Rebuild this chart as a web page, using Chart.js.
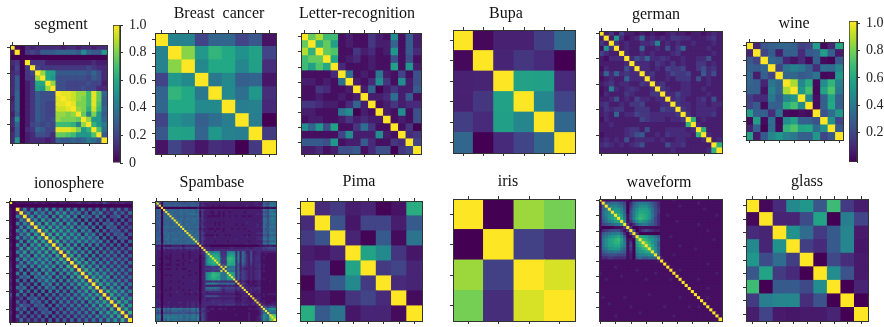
<!DOCTYPE html>
<html>
<head>
<meta charset="utf-8">
<title>Correlation matrices</title>
<script src="https://cdn.jsdelivr.net/npm/chart.js@4"></script>
<style>
  html, body { margin: 0; background: #fff; }
  #page { position: relative; width: 884px; height: 327px; overflow: hidden; filter: blur(.35px); }
  #page canvas { position: absolute; }
  .titre { position: absolute; transform: translate(-50%, -50%); font: 16px "Liberation Serif", serif; color: #111; white-space: nowrap; }
</style>
</head>
<body>
<div id="page"></div>
<script>
// small matrices, read cell by cell
const breastValues = [
  [1, .44, .44, .2, .32, .33, .2, .27, .05],
  [.44, 1, .82, .53, .65, .6, .5, .57, .2],
  [.44, .82, 1, .47, .6, .6, .46, .56, .13],
  [.2, .53, .47, 1, .4, .47, .3, .32, .06],
  [.32, .65, .6, .4, 1, .47, .36, .52, .13],
  [.33, .6, .6, .47, .47, 1, .42, .43, .11],
  [.2, .5, .46, .3, .36, .42, 1, .42, 0],
  [.27, .57, .56, .32, .52, .43, .42, 1, .17],
  [.05, .2, .13, .06, .13, .11, 0, .17, 1]
];
const bupaValues = [
  [1, .02, .09, .09, .18, .33],
  [.02, 1, .1, .16, .12, 0],
  [.09, .1, 1, .57, .56, .12],
  [.09, .16, .57, 1, .46, .2],
  [.18, .12, .56, .46, 1, .33],
  [.33, 0, .12, .2, .33, 1]
];
const wineValues = [
  [1, .1, .27, .3, .33, .33, .3, .18, .2, .55, .03, .1, .58],
  [.1, 1, .2, .28, .08, .3, .3, .12, .28, .3, .55, .3, .07],
  [.27, .2, 1, .33, .3, .1, .05, .12, .03, .3, .03, .01, .28],
  [.3, .28, .33, 1, .2, .38, .43, .4, .3, .13, .36, .35, .45],
  [.33, .08, .3, .2, 1, .33, .33, .28, .3, .38, .02, .03, .52],
  [.33, .3, .1, .38, .33, 1, .87, .45, .62, .03, .48, .65, .43],
  [.3, .3, .05, .43, .33, .87, 1, .52, .7, .02, .57, .72, .4],
  [.18, .12, .12, .4, .28, .45, .52, 1, .47, .04, .3, .58, .3],
  [.2, .28, .03, .3, .3, .62, .7, .47, 1, .03, .3, .6, .3],
  [.55, .3, .3, .13, .38, .03, .02, .04, .03, 1, .25, .35, .52],
  [.03, .55, .03, .36, .02, .48, .57, .3, .3, .25, 1, .5, .2],
  [.1, .3, .01, .35, .03, .65, .72, .58, .6, .35, .5, 1, .28],
  [.58, .07, .28, .45, .52, .43, .4, .3, .3, .52, .2, .28, 1]
];
const pimaValues = [
  [1, .12, .17, .08, .1, .01, .05, .62],
  [.12, 1, .25, .06, .2, .2, .08, .28],
  [.17, .25, 1, .1, .01, .28, .03, .38],
  [.08, .06, .1, 1, .58, .47, .15, .06],
  [.1, .2, .01, .58, 1, .17, .2, .1],
  [.01, .2, .28, .47, .17, 1, .12, .1],
  [.05, .08, .03, .15, .2, .12, 1, .03],
  [.62, .28, .38, .06, .1, .1, .03, 1]
];
const irisValues = [
  [1, 0, .85, .79],
  [0, 1, .19, .13],
  [.85, .19, 1, .94],
  [.79, .13, .94, 1]
];
const glassValues = [
  [1, .02, .12, .47, .52, .27, .68, .17, .08],
  [.02, 1, .1, .1, .23, .58, 0, .42, .2],
  [.12, .1, 1, .5, .35, .17, .28, .45, .07],
  [.47, .1, .5, 1, .18, .12, .28, .46, .06],
  [.52, .23, .35, .18, 1, 0, .22, .13, .07],
  [.27, .58, .17, .12, 0, 1, .48, .25, .07],
  [.68, 0, .28, .28, .22, .48, 1, 0, .1],
  [.17, .42, .45, .46, .13, .25, 0, 1, 0],
  [.08, .2, .07, .06, .07, .07, .1, 0, 1]
];

// big matrices: upper triangle only, one letter per cell, a=0 ... z=1 (steps of .04)
const segmentRows = [
  'zbadcdddddcddcddcdd', 'zaefehhhiiiihmihhn', 'aaaaaaaaaaaaaaaaa', 'zeeecccccccccdcc',
  'zfeeeeeeeeefedd', 'zvpohhhhhhgigd', 'zpnggggggfhgd', 'zvggffffgffc', 'zggfffgffdd',
  'zyyxvvryti', 'zyxvuryth', 'zyuurysh', 'zvuqxri', 'ztlunh', 'zvnni', 'zqnk', 'zsj', 'zh', 'z'
];
const letterRows = [
  'ztwrrbcbbecbmbhc', 'zqtobcbbeccibhc', 'ztsbbecdbcnbhd', 'zpbcdbcbbgbgb', 'zdbbbcbbobnc',
  'zjbcbkcbfbg', 'zcbdmebmcg', 'zciacecch', 'zccdjchb', 'zbcecdd', 'zcbmbg', 'zbcbg',
  'zbea', 'zde', 'zf', 'z'
];
const germanRows = [
  'zcebfccbcbcbbcdccbccbcdc', 'zcndbcdicdcdceeddcccdec', 'zecdccddelcdcdccdcccdc',
  'zcdcciccdcgceiccccdcc', 'zdccdcdcccdeccccccdc', 'zdgeiddedccdccddgcc', 'zdddcedcecdcceecdc',
  'zddcdcfeefccegdec', 'zdeccdfeefcchdgc', 'zdccdceeecgcdcc', 'zdecccddcccdcc', 'zedccddccdccc',
  'zddfddcccdcc', 'zdedccdecgc', 'zeddcddcdd', 'zedcddddc', 'zecdddec', 'zqcdccc', 'zdcccc',
  'zqccc', 'zdcc', 'zcd', 'zq', 'z'
];
const ionosphereRows = [
  'zabbbbbcbcbbcbccbccdccdcdcgdcccdcc', 'aaaaaaaaaaaaaaaaaaaaaaaaaaaaaaaaa',
  'zdlclcldmc mdlcldlclc jcjcjcidjc ic',
  'zfldmfldmd nfndlflcjb kflcgcjdic j',
  'zfmdnflcmd ofndmblfjc kcjbgfjbhc',
  'zfndofmcod mfmckbkbib jbibgbibg',
  'zfodpfnfnc nfmclblbjb ifjcibhc',
  'zgoepfnfnf ndmflckbkb jfibhcg',
  'zgpepfofnf ncmflbkbjc ifhcic',
  'zgpepfofnf ncmflckbjc ifibh',
  'zgpepfnfnf nfmflbkbjb ifib',
  'zgqenfmfnf mflflcjbjb ibi',
  'zfpdodncmc mclcjcjbjb ib',
  'zgpfodmcmc lclcjcjcic i',
  'zeqfnemdmc lckdkdjcic',
  'zgpdodmclc kdkdjcjci',
  'zeqfncmdlc kdkdjdjc',
  'zgpfoemdld ldkdjcj',
  'zdpenemdld kdkdjc',
  'zgqfodmeld ldkdj',
  'zfpgnfmeldkdjd', 'zeogofncldkdj', 'zfqenfmdldkd',
  'zgpfofneldk', 'zeodnemcld', 'zfqgofnel', 'zepfmfld', 'zgpdofm', 'zfqgof', 'zepen', 'zgpf',
  'zeq', 'zf', 'z'
];
const spambaseRows = [
  'zhgaihgihi hgigghihig icedddcccc cccccccdcc cccdccccdd cikgkkj',
  'zgahhhhgh hgggghghhg hcdccccccc cccccccccc cccccccdcc cigfiji',
  'zaihiihi hiihihhiih icedcccbcc bcbccccccc cccdccccdc djigklj',
  'zaaaaaa aaaaaaaaaa baaaaaaaaa aaaaaaaaaa aaaaaaaaaa abaabaa',
  'zihiii ihjiijiiih icfdcccccc cccccccccc cccccccccc djigklj',
  'ziijh iijiiiiijh ibecccbbcc bcbccbcccc ccbccccccc chgfjjh',
  'ziii iijihjjjji jbfccccbcc bcbccccccc ccccccccdc djhgkll',
  'zhi hhihhihihh ibeccbbbbb bcbccbccbc cbbcbbcccc chgfiji',
  'zi ihjihjiiji jcfccccccc cccccccccc cccccccccc ckigklj',
  'z jijhiiiiji icedcccccc cccccccccc cccccccccc djigjkj',
  'zijhiiiiji icecccccbc bcbccccccc cccdcccccc cjigjkj',
  'zihijhiih icecccccbc bcccccccbc cbccccccdc cjhgiji',
  'zjiijiij jcfdcccccc cccccccccc ccccccccdc djigkkj',
  'zhiihih ibdccbbbcb bcbcccbccb ccbccccccc cighiii',
  'zjijii icecccccbc ccbccccccc ccccbccccc cihgjii',
  'zijii jcfdcccccc cccccccccc ccccccccdd djigkkj',
  'ziij icecbbbbcb cccbcbcccc ccbcbccccc chgfiih',
  'zji jcfdccccdc cccccccccc cccdccccdd djigjkj',
  'zj kcfdcccccc ccccccccdc ccccccccdd dkjhkkj',
  'z icecccccbc ccccbccccc ccccbccccc chgfiii',
  'zcfdcccccc cccccccccc cccdccccdd dkjhkml',
  'zbbbbaaaa aaaaaaaaaa aaaaaaaaab bbcbcbb',
  'zeddcccc ccccccdccc cccdcccddd dfefggg',
  'zeddcdd dddddddddd dddddddddd dedeeee',
  'zllkll kdedlllldk cjgccgccdd ccccccc',
  'zmooo mdedmnnndl cjgdcgccdd bbcbbbb',
  'zppp neeeoppodl cjhdcgcddd bcbbbbb',
  'zqq pfefqrqpel cjgdcgcded bcbbbbb',
  'zq pefeqqqpdl ckgdcgcddd bbbbbbb',
  'z oeeepqppdk cjgdcfcddd bbbbbbb',
  'zeieppopeh cifdcecdde bcbbbbb',
  'zgxjjjjdi cfedcdcdde bcbbbbb',
  'zgkkkkdi cecccdccdd bbbbbbb',
  'zjjjjdi cfedcdcdde bcbbbbb',
  'zopndi dfedcdcdde bbbbbbb',
  'zpndi cfedcdcdde bbbbbbb',
  'zndi dfedcdcdde bbbbbbb',
  'zdi cfedcdcdde bcbbbbb',
  'zc cdcbbcbbcc bbbbcbb',
  'z cfecbcbccd bbbbbbb',
  'zdcccbcbcc bbbbbbb',
  'zedcdcdde bbbbbbb',
  'zdcdcdcd bbbbbbb',
  'zcdcccd bbbbbbb',
  'zcbccc bcbcccc',
  'zcbcc bcbbbbb',
  'zcdd bbbbbbb',
  'zdc bcbbbbb',
  'zd ccbbbcc',
  'z cdcccdc',
  'zffeggf', 'zkjmnm', 'zjkkj', 'zjji', 'zts', 'zt', 'z'
];
const waveformRows = [
  'zbbbbbbbbb abbbbbbbbb bbbbcbbbbb bbbbbbbbbb',
  'zhijjihfa dhjkkkjhfd bbbbbbbbbb bbcbbbbbbb',
  'zkllkjga eikmmmkifd bbbbbbcbbb bbbbbbbbbb',
  'zmnnlha fjmooomjge bbbbbbbbbb bbbbcbbbbb',
  'zoomia gknpponjge bbbbbbbbbb bbbbbbbbbb',
  'zqojb gkoqqpnkgd bbcbbbbbbb bbbbbbbbcb',
  'zpkb glprqpnjfd bbbbbbbbbb bbbbbbbbbb',
  'zmb eimonmkifd bbbbbcbbbb bbbbbbbbbb',
  'ze bdhjkkihfd bbbbbbbbbb bbcbbbbbbb',
  'z eaabbbbbbb bbbbbbbbbb bbbbbbbbbb',
  'zgacefedcc bbbbbbbbbb bbbbbcbbbb',
  'zeaaaaaaa bbbbbbbbbb bbbbbbbbbb',
  'zqpomljh bbbcbbbbbb bbbbbbbbbb',
  'zrqonlj bbbbbbbbbb bbbbbbbcbb',
  'zsqnlh bbbbbbbbbb bbbbbbbbbb',
  'zrplh bbbbbbcbbb bbbbbbbbbb',
  'zpmi bbbbbbbbbb bcbbbbbbbb',
  'zmi bbbbbbbbbb bbbbbbbbbb',
  'zi bbbbcbbbbb bbbbbbbbbb',
  'z cbbbbbbbbb bbbbbbbbbb',
  'zbbbbbbbbb bbbbbbbbbb',
  'zbbbbbbbb bbbbbcbbbb', 'zbbbbbbb bbbbbbbbbb', 'zbbcbbb bbbbbbbbbb', 'zbbbbb bbbbbbbbcb',
  'zbbbb bbbbbbbbbb', 'zbbb bbcbbbbbbb', 'zbb bbbbbbbbbb', 'zb bbbbbbbbbb', 'z bbbbbcbbbb',
  'zbbbbbbbbb', 'zbbbbbbbb', 'zbbcbbbb', 'zbbbbbb', 'zbbbbb', 'zbbbb', 'zbbb', 'zbb', 'zb', 'z'
];

const colorbarTicks = [0, .2, .4, .6, .8, 1];
const colorbarTicksWine = [.2, .4, .6, .8, 1];

const viridis = [
  [68, 1, 84], [72, 36, 117], [65, 68, 135], [53, 95, 141], [42, 120, 142], [33, 145, 140],
  [34, 168, 132], [68, 191, 112], [122, 209, 81], [189, 223, 38], [253, 231, 37]
];

function couleur(v) {
  const p = Math.min(Math.max(v, 0), 1) * (viridis.length - 1);
  const i = Math.min(Math.floor(p), viridis.length - 2);
  const t = p - i;
  const c = viridis[i].map((a, k) => Math.round(a + (viridis[i + 1][k] - a) * t));
  return 'rgb(' + c.join(',') + ')';
}

function triangle(rows) {
  const n = rows.length;
  const m = Array.from({ length: n }, () => Array(n).fill(.04));
  rows.forEach((row, i) => {
    const s = row.replace(/ /g, '');
    for (let k = 0; k < s.length && i + k < n; k++) {
      const v = (s.charCodeAt(k) - 97) * .04;
      m[i][i + k] = v;
      m[i + k][i] = v;
    }
  });
  return m;
}

function pas(n, step) {
  const t = [];
  for (let i = 0; i < n; i += step) t.push(i);
  return t;
}

const page = document.getElementById('page');
const MARGE = 6;
const GRIS = '#333';

function ajouteCanvas(x, y, w, h) {
  const c = document.createElement('canvas');
  c.width = w;
  c.height = h;
  c.style.left = x + 'px';
  c.style.top = y + 'px';
  c.style.width = w + 'px';
  c.style.height = h + 'px';
  page.appendChild(c);
  return c;
}

function axe(position, n, ticks) {
  const horizontal = position === 'top' || position === 'bottom';
  return {
    type: 'linear',
    position: position,
    min: -.5,
    max: n - .5,
    reverse: !horizontal,
    ticks: { display: false },
    grid: { drawOnChartArea: false, drawTicks: ticks.length > 0, tickLength: 3, color: GRIS, tickWidth: 1 },
    border: { display: true, color: GRIS, width: 1, z: 1 },
    afterBuildTicks: s => { s.ticks = ticks.map(v => ({ value: v })); },
    afterFit: s => {
      if (horizontal) s.height = MARGE;
      else s.width = MARGE;
    }
  };
}

function heatmap(p) {
  const n = p.values.length;
  const cells = [];
  p.values.forEach((row, i) => row.forEach((v, j) => cells.push({ x: j, y: i, v: v })));

  const canvas = ajouteCanvas(p.box[0] - MARGE, p.box[1] - MARGE, p.box[2] + 2 * MARGE, p.box[3] + 2 * MARGE);
  new Chart(canvas, {
    type: 'scatter',
    data: {
      datasets: [{
        label: p.title,
        data: cells,
        pointStyle: 'rect',
        pointBorderWidth: 0,
        pointBackgroundColor: ctx => couleur(ctx.raw.v),
        // rect side is radius * sqrt(2), the .9 hides the seams between cells
        pointRadius: ctx => {
          const sx = ctx.chart.scales.x;
          return (Math.abs(sx.getPixelForValue(1) - sx.getPixelForValue(0)) + .9) / Math.SQRT2;
        }
      }]
    },
    options: {
      responsive: false,
      animation: false,
      events: [],
      layout: { padding: 0 },
      plugins: { legend: { display: false }, tooltip: { enabled: false } },
      scales: {
        x: axe('bottom', n, p.ticks),
        x2: axe('top', n, p.ticks),
        y: axe('left', n, p.ticks),
        y2: axe('right', n, [])
      }
    }
  });

  const t = document.createElement('div');
  t.className = 'titre';
  t.textContent = p.title;
  t.style.left = p.titre[0] + 'px';
  t.style.top = p.titre[1] + 'px';
  if (p.wordSpacing) t.style.wordSpacing = p.wordSpacing + 'px';
  page.appendChild(t);
}

function colorbar(b) {
  const HAUT = 8;
  const largeur = 42;
  const canvas = ajouteCanvas(b.box[0], b.box[1] - HAUT, b.box[2] + largeur, b.box[3] + 2 * HAUT);
  new Chart(canvas, {
    type: 'bar',
    data: {
      labels: [''],
      datasets: [{
        data: [[b.min, b.max]],
        barPercentage: 1,
        categoryPercentage: 1,
        borderColor: GRIS,
        borderWidth: 1,
        borderSkipped: false,
        backgroundColor: ctx => {
          const area = ctx.chart.chartArea;
          if (!area) return couleur(0);
          const g = ctx.chart.ctx.createLinearGradient(0, area.bottom, 0, area.top);
          viridis.forEach((c, i) => g.addColorStop(i / (viridis.length - 1), couleur(i / (viridis.length - 1))));
          return g;
        }
      }]
    },
    options: {
      responsive: false,
      animation: false,
      events: [],
      layout: { padding: { top: HAUT, bottom: HAUT } },
      plugins: { legend: { display: false }, tooltip: { enabled: false } },
      scales: {
        x: { display: false },
        y: {
          position: 'right',
          min: b.min,
          max: b.max,
          grid: { drawOnChartArea: false, tickLength: 3, color: GRIS },
          border: { color: GRIS },
          ticks: {
            autoSkip: false,
            padding: 6,
            color: '#222',
            font: { family: '"Liberation Serif", serif', size: 14 },
            callback: v => (v === 0 ? '0' : v.toFixed(1))
          },
          afterBuildTicks: s => { s.ticks = b.ticks.map(v => ({ value: v })); },
          afterFit: s => {
            s.width = largeur;
            // the padding above already leaves room for the end labels
            s.paddingTop = 0;
            s.paddingBottom = 0;
          }
        }
      }
    }
  });
}

heatmap({ title: 'segment', values: triangle(segmentRows), ticks: pas(19, 5), box: [10, 45, 97, 98], titre: [61, 24] });
heatmap({ title: 'Breast cancer', values: breastValues, ticks: pas(9, 1), box: [155, 33, 121, 121], titre: [219, 13], wordSpacing: 4 });
heatmap({ title: 'Letter-recognition', values: triangle(letterRows), ticks: pas(16, 2), box: [301, 33, 120, 121], titre: [357, 13] });
heatmap({ title: 'Bupa', values: bupaValues, ticks: pas(6, 1), box: [453, 30, 122, 123], titre: [506, 13] });
heatmap({ title: 'german', values: triangle(germanRows), ticks: pas(24, 5), box: [599, 31, 123, 122], titre: [656, 14] });
heatmap({ title: 'wine', values: wineValues, ticks: pas(13, 2), box: [746, 42, 97, 98], titre: [794, 23] });
heatmap({ title: 'ionosphere', values: triangle(ionosphereRows), ticks: pas(34, 5), box: [9, 201, 123, 121], titre: [69, 183] });
heatmap({ title: 'Spambase', values: triangle(spambaseRows), ticks: pas(57, 10), box: [155, 201, 121, 120], titre: [212, 182] });
heatmap({ title: 'Pima', values: pimaValues, ticks: pas(8, 1), box: [300, 201, 122, 120], titre: [359, 181] });
heatmap({ title: 'iris', values: irisValues, ticks: pas(4, 1), box: [453, 199, 122, 122], titre: [508, 181] });
heatmap({ title: 'waveform', values: triangle(waveformRows), ticks: pas(40, 5), box: [599, 199, 123, 122], titre: [659, 182] });
heatmap({ title: 'glass', values: glassValues, ticks: pas(9, 1), box: [746, 199, 122, 122], titre: [807, 181] });

colorbar({ box: [113, 25, 7, 138], min: 0, max: 1, ticks: colorbarTicks });
colorbar({ box: [849, 21, 8, 141], min: -.02, max: 1.02, ticks: colorbarTicksWine });
</script>
</body>
</html>
